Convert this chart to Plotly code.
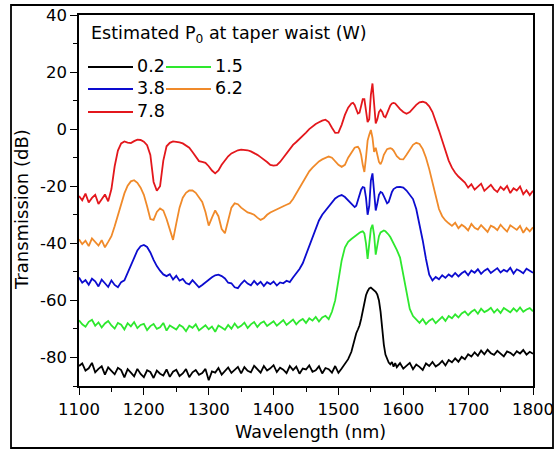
import plotly.graph_objects as go

# ---------------- data ----------------
# sampling grid (nm): 5 nm steps, 2.5 nm steps around the pump (1520-1590 nm)
wavelength = ([1100 + 5 * i for i in range(84)]
              + [1520 + 2.5 * i for i in range(29)]
              + [1595 + 5 * i for i in range(42)])

power_labels = ["0.2", "1.5", "3.8", "6.2", "7.8"]
legend_title = "Estimated P<sub>0</sub> at taper waist (W)"

x_ticks = [1100, 1200, 1300, 1400, 1500, 1600, 1700, 1800]
y_ticks = [40, 20, 0, -20, -40, -60, -80]
y_tick_text = ["40", "20", "0", "-20", "-40", "-60", "-80"]

t_0_2 = [
    -83.0, -82.1, -84.6, -83.8, -81.9, -85.2, -84.0, -83.1, -86.0, -83.5,
    -84.7, -85.9, -83.6, -84.4, -87.0, -84.1, -85.3, -86.6, -84.0, -85.8,
    -86.9, -84.5, -85.1, -87.2, -84.6, -85.7, -86.3, -84.2, -86.8, -85.0,
    -84.3, -86.5, -85.6, -84.1, -86.9, -85.2, -84.4, -86.1, -85.5, -84.0,
    -88.0, -84.9, -85.3, -83.7, -86.0, -84.6, -83.5, -85.4, -84.2, -83.3,
    -85.6, -83.4, -84.7, -85.2, -82.9, -84.1, -85.3, -83.0, -84.6, -83.8,
    -82.7, -85.1, -83.6, -84.3, -85.5, -83.0, -84.4, -83.2, -85.7, -83.9,
    -84.2, -82.8, -85.0, -84.5, -83.1, -85.6, -83.7, -84.1, -85.3, -83.0,
    -85.4, -83.9, -82.4, -80.6,
    -78.0, -75.5, -73.0, -71.5, -70.2, -68.8, -66.5, -63.5, -60.5, -58.2,
    -56.8, -55.8, -55.5, -55.9, -56.4, -57.0, -58.0, -60.0, -64.0, -70.0,
    -75.5, -79.0, -80.8, -81.8, -82.4, -81.6, -83.2, -82.0, -83.4,
    -82.0, -83.9, -82.8, -81.9, -84.1, -82.5, -83.3, -84.4, -82.1, -83.0,
    -81.6, -83.2, -82.4, -81.2, -82.8, -80.9, -81.7, -80.3, -81.5, -79.8,
    -80.6, -78.9, -79.7, -78.2, -79.4, -77.6, -78.9, -77.3, -78.5, -79.1,
    -77.7, -78.8, -79.6, -77.9, -78.4, -79.3, -77.8, -78.6, -77.4, -79.0,
    -78.0, -78.7,
]

t_1_5 = [
    -67.0, -68.4, -69.2, -67.5, -66.8, -68.9, -67.7, -69.5, -68.1, -67.2,
    -68.8, -69.9, -67.9, -68.5, -70.2, -68.0, -69.1, -67.6, -69.7, -68.6,
    -68.2, -70.4, -69.0, -68.3, -70.0, -69.4, -67.9, -70.6, -68.8, -69.5,
    -70.2, -68.6, -69.3, -70.8, -68.9, -69.6, -68.4, -70.5, -69.7, -68.7,
    -70.1, -69.2, -71.0, -68.8, -69.5, -70.3, -68.6, -69.9, -68.1, -69.6,
    -68.9, -67.8, -69.7, -68.4, -67.6, -69.3, -68.0, -67.4, -69.0, -68.2,
    -67.3, -68.9, -68.0, -66.9, -68.6, -67.5, -66.7, -68.4, -67.2, -66.5,
    -67.9, -66.3, -67.1, -65.8, -67.4, -66.0, -65.4, -66.6, -64.0, -60.0,
    -53.5, -46.0, -41.5, -39.5,
    -38.5, -38.0, -37.5, -37.2, -36.8, -36.3, -36.0, -35.8, -36.5, -40.0,
    -45.5, -41.0, -35.0, -33.5, -37.0, -44.0, -41.0, -37.5, -36.2, -35.7,
    -35.5, -35.8, -36.3, -37.0, -37.8, -38.8, -40.0, -41.0, -42.3,
    -45.0, -51.0, -58.0, -63.0, -65.5, -66.8, -67.9, -66.5, -68.3, -67.1,
    -66.4, -68.0, -66.9, -65.8, -67.2, -65.5, -66.3, -64.9, -66.0, -64.6,
    -63.9, -65.2, -64.0, -63.3, -64.7, -62.9, -64.1, -63.5, -62.6, -64.3,
    -63.1, -64.4, -62.7, -63.6, -64.2, -62.8, -63.9, -62.5, -64.0, -63.2,
    -62.7, -63.8,
]

t_3_8 = [
    -52.0, -53.8, -52.9, -54.5, -52.4, -53.3, -55.1, -52.7, -54.0, -55.3,
    -53.0, -54.6, -55.4, -53.6, -53.0, -50.5, -47.5, -45.0, -42.5, -41.0,
    -40.6, -41.3, -43.2, -45.8, -48.0, -49.6, -50.9, -51.5, -50.8, -52.7,
    -51.4, -53.1, -52.5, -53.9, -54.4, -52.9, -54.0, -55.4, -54.6, -53.7,
    -52.6, -51.9, -51.2, -51.0, -51.5, -52.3, -53.8, -54.0, -55.4, -55.7,
    -54.2, -53.0, -54.1, -54.7, -53.2, -54.5, -53.5, -55.0, -53.6, -54.3,
    -53.4, -54.8, -53.7, -54.0, -53.1, -53.6, -52.0, -50.5, -49.0, -47.0,
    -44.0, -41.0, -37.5, -35.0, -32.0, -30.0, -28.5, -27.0, -25.5, -24.3,
    -23.5, -23.1, -23.8, -25.0,
    -26.3, -27.0, -27.3, -26.8, -25.0, -23.0, -21.2, -20.3, -20.5, -24.0,
    -30.0, -27.0, -18.0, -15.5, -21.0, -28.5, -26.0, -23.0, -22.0, -22.3,
    -23.5, -25.0, -26.0, -25.5, -23.5, -22.0, -21.0, -20.5, -20.3,
    -20.2, -20.5, -21.5, -23.0, -24.5, -28.0, -33.0, -39.0, -45.5, -51.0,
    -53.0, -51.8, -52.6, -51.2, -52.1, -50.9, -51.7, -50.4, -51.6, -50.5,
    -49.8, -51.2, -49.5, -50.3, -49.1, -50.7, -49.6, -48.9, -50.4, -49.4,
    -48.7, -50.2, -49.3, -49.9, -48.6, -50.6, -49.1, -49.7, -50.5, -48.9,
    -49.6, -50.3,
]

t_6_2 = [
    -38.6, -40.3, -39.1, -41.0, -38.3, -39.7, -40.8, -38.9, -41.4, -39.5,
    -37.5, -34.0, -30.0, -26.0, -22.5, -19.8, -18.3, -17.9, -18.8, -20.5,
    -23.0, -27.0, -31.5, -31.8, -29.0, -27.8, -28.5, -31.5, -35.5, -38.8,
    -33.0, -27.5, -24.0, -22.3, -21.5, -21.5, -22.3, -23.8, -25.5, -29.0,
    -33.8, -31.0, -28.5, -30.5, -35.0, -36.5, -32.0, -27.5, -26.0, -26.3,
    -27.5, -28.5, -29.2, -29.5, -30.0, -31.0, -31.8, -31.2, -30.0, -29.2,
    -28.6, -28.2, -27.5, -27.0, -26.5, -26.0, -24.5, -22.5, -20.5, -18.5,
    -16.5, -14.8, -13.5, -12.3, -11.3, -10.6, -10.0, -9.6, -10.0, -11.2,
    -12.5, -13.2, -12.5, -10.0,
    -8.0, -7.0, -6.5, -6.3, -6.2, -7.0, -9.0, -12.5, -15.0, -10.0,
    -4.0, -2.0, -0.3, -3.0, -8.0, -6.5, -9.0, -11.5, -12.3, -11.0,
    -9.0, -7.8, -7.0, -6.8, -6.7, -6.9, -7.5, -8.5, -9.5,
    -10.5, -10.6, -9.0, -7.0, -5.5, -4.8, -5.2, -7.0, -10.0, -14.0,
    -19.0, -24.0, -28.0, -30.5, -32.0, -33.0, -33.9, -32.8, -34.7, -33.5,
    -34.3, -35.5, -33.2, -34.6, -35.2, -33.6, -34.9, -36.0, -33.8, -34.4,
    -35.4, -33.5, -34.8, -35.9, -33.7, -34.5, -35.3, -33.9, -36.3, -34.6,
    -35.8, -34.4,
]

t_7_8 = [
    -23.4, -24.9, -22.6, -25.7, -24.1, -23.0, -26.2, -24.5, -22.9, -25.3,
    -21.0, -13.0, -7.5, -5.0, -4.3, -4.7, -4.9, -4.2, -3.7, -3.8,
    -4.4, -5.6, -9.0, -18.5, -21.6, -20.0, -11.0, -6.0, -4.8, -4.3,
    -4.4, -4.6, -5.0, -5.8, -6.5, -8.0, -9.8, -11.2, -11.5, -11.8,
    -13.0, -14.5, -15.5, -14.5, -12.5, -11.0, -9.5, -8.5, -7.8, -7.4,
    -7.2, -7.3, -7.4, -7.8, -8.3, -9.0, -9.8, -10.5, -11.5, -12.5,
    -12.8, -12.6, -11.5, -10.0, -8.5, -7.0, -5.5, -4.5, -3.5, -2.5,
    -1.2, 0.0, 1.0, 1.8, 2.4, 3.0, 3.3, 2.5, 0.5, -1.3,
    -1.2, 1.5, 5.0, 7.5,
    9.0, 9.2, 8.5, 7.0, 5.5, 5.8, 8.0, 10.5, 10.5, 7.0,
    2.5, 3.5, 12.0, 16.0, 9.0, 2.0, 3.5, 6.0, 6.8, 6.0,
    4.5, 4.2, 5.5, 7.0, 8.3, 9.0, 9.2, 9.0, 8.2,
    7.0, 6.0, 5.4, 6.0, 7.3, 8.5, 9.4, 9.6, 9.2, 8.0,
    6.0, 3.0, -0.5, -4.0, -7.5, -11.0, -13.5, -15.3, -16.6, -17.6,
    -18.7, -20.5, -19.3, -21.2, -20.0, -19.1, -21.6, -20.4, -19.5, -21.1,
    -22.0, -20.2, -21.3, -19.9, -22.4, -20.7, -21.5, -20.1, -22.8, -21.4,
    -23.1, -21.6,
]

series = [t_0_2, t_1_5, t_3_8, t_6_2, t_7_8]
colors = ["#000000", "#2ee82e", "#0c0ccf", "#f08a2a", "#e3171c"]

for s in series:
    assert len(s) == len(wavelength), (len(s), len(wavelength))

FONT = "DejaVu Sans"

fig = go.Figure()
for lab, ys, col in zip(power_labels, series, colors):
    fig.add_trace(go.Scatter(x=wavelength, y=ys, mode="lines", name=lab,
                             line=dict(color=col, width=1.8), showlegend=False))

# ---------- layout geometry (pixels) ----------
W, H = 557, 450
L, R, T, B = 79, 24, 15, 64
PW, PH = W - L - R, H - T - B


def px(xp):
    return (xp - L) / PW


def py(yp):
    return (H - B - yp) / PH


shapes = []
annotations = []

# outer frame
shapes.append(dict(type="rect", xref="paper", yref="paper",
                   x0=px(11), x1=px(553), y0=py(448), y1=py(5),
                   line=dict(color="black", width=1.8), layer="above"))

# legend (manual, two columns)
annotations.append(dict(text=legend_title, xref="paper", yref="paper",
                        x=px(89), y=py(34), xanchor="left", yanchor="middle",
                        showarrow=False, font=dict(family=FONT, size=17.5, color="black")))
row_y = [67, 67, 89, 89, 112]
col_x = [88, 166, 88, 166, 88]
for lab, col, ry, cx in zip(power_labels, colors, row_y, col_x):
    shapes.append(dict(type="line", xref="paper", yref="paper",
                       x0=px(cx), x1=px(cx + 45), y0=py(ry), y1=py(ry),
                       line=dict(color=col, width=1.8)))
    annotations.append(dict(text=lab, xref="paper", yref="paper",
                            x=px(cx + 47), y=py(ry - 1), xanchor="left", yanchor="middle",
                            showarrow=False, font=dict(family=FONT, size=17.5, color="black")))

# axis titles
annotations.append(dict(text="Wavelength (nm)", xref="paper", yref="paper",
                        x=px(310), y=py(432), xanchor="center", yanchor="middle",
                        showarrow=False, font=dict(family=FONT, size=17.5, color="black")))
annotations.append(dict(text="Transmission (dB)", xref="paper", yref="paper",
                        x=px(21.5), y=py(209.5), xanchor="center", yanchor="middle",
                        textangle=-90, showarrow=False,
                        font=dict(family=FONT, size=18, color="black")))

axis_common = dict(showgrid=False, zeroline=False, showline=True, linecolor="black",
                   linewidth=1.5, mirror=True, ticks="outside", ticklen=7, tickwidth=1.3,
                   tickcolor="black", automargin=False,
                   tickfont=dict(family=FONT, size=16.5, color="black"))

fig.update_layout(
    width=W, height=H,
    margin=dict(l=L, r=R, t=T, b=B, pad=0, autoexpand=False),
    paper_bgcolor="white", plot_bgcolor="white",
    showlegend=False,
    xaxis=dict(range=[1100, 1800], tickmode="array", tickvals=x_ticks,
               minor=dict(tick0=1100, dtick=50, ticks="outside", ticklen=4,
                          tickwidth=1.2, tickcolor="black", showgrid=False),
               **axis_common),
    yaxis=dict(range=[-90, 40], tickmode="array", tickvals=y_ticks, ticktext=y_tick_text,
               minor=dict(tick0=0, dtick=10, ticks="outside", ticklen=4,
                          tickwidth=1.2, tickcolor="black", showgrid=False),
               **axis_common),
    shapes=shapes,
    annotations=annotations,
)

# place the 557x450 figure at the page origin (no default body margin)
fig.write_html("out.html",
               config={"displayModeBar": False},
               post_script="document.body.style.margin='0px';document.body.style.overflow='hidden';")
